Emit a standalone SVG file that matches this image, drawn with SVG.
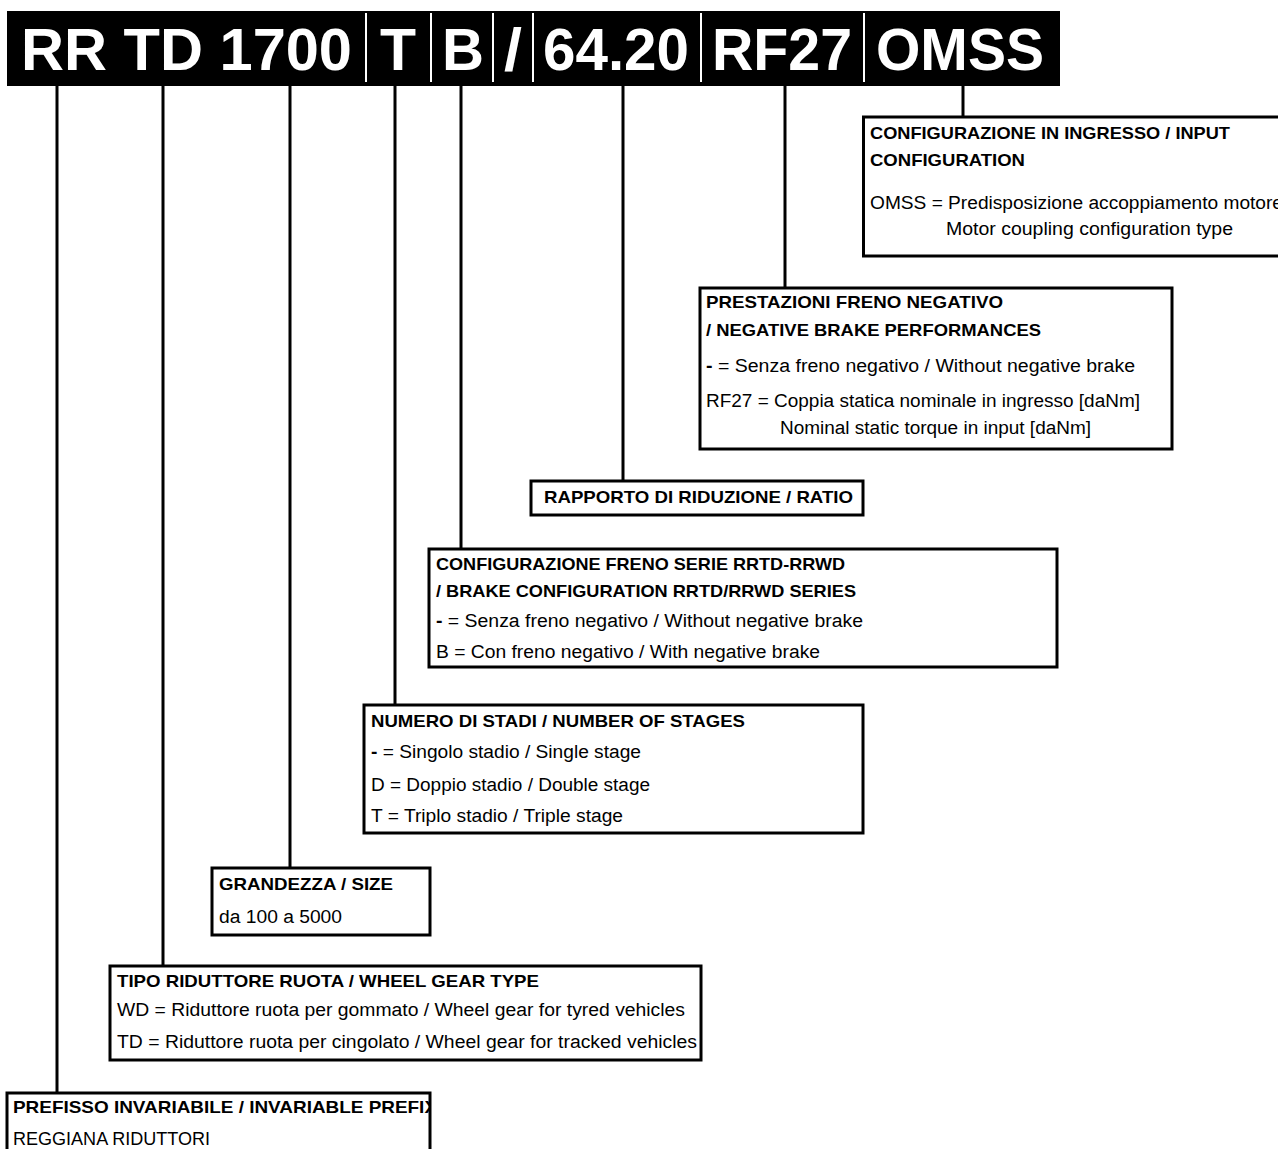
<svg xmlns="http://www.w3.org/2000/svg" width="1278" height="1149" viewBox="0 0 1278 1149">
<style>
.hd{font-family:"Liberation Sans",Arial,sans-serif;font-weight:bold;font-size:59px;fill:#fff}
.b{font-family:"Liberation Sans",Arial,sans-serif;font-weight:bold;font-size:17px;fill:#000}
.r{font-family:"Liberation Sans",Arial,sans-serif;font-size:18px;fill:#000}
.dash{font-weight:bold}
.box{fill:none;stroke:#000;stroke-width:3}
.sep{stroke:#fff;stroke-width:2}
.con{stroke:#000;stroke-width:3;fill:none}
</style>
<rect width="1278" height="1149" fill="#fff"/>
<g id="header">
<rect x="7" y="11" width="1053" height="75" fill="#000"/>
<text class="hd" x="21" y="70" textLength="331" lengthAdjust="spacingAndGlyphs">RR TD 1700</text>
<text class="hd" x="380" y="70" textLength="36" lengthAdjust="spacingAndGlyphs">T</text>
<text class="hd" x="442" y="70" textLength="42" lengthAdjust="spacingAndGlyphs">B</text>
<text class="hd" x="504" y="70" textLength="18" lengthAdjust="spacingAndGlyphs">/</text>
<text class="hd" x="543" y="70" textLength="146" lengthAdjust="spacingAndGlyphs">64.20</text>
<text class="hd" x="712" y="70" textLength="140" lengthAdjust="spacingAndGlyphs">RF27</text>
<text class="hd" x="876" y="70" textLength="168" lengthAdjust="spacingAndGlyphs">OMSS</text>
<line class="sep" x1="366" y1="13" x2="366" y2="82"/>
<line class="sep" x1="431" y1="13" x2="431" y2="82"/>
<line class="sep" x1="493" y1="13" x2="493" y2="82"/>
<line class="sep" x1="533" y1="13" x2="533" y2="82"/>
<line class="sep" x1="701" y1="13" x2="701" y2="82"/>
<line class="sep" x1="864" y1="13" x2="864" y2="82"/>
</g>
<g id="connectors">
<line class="con" x1="57" y1="86" x2="57" y2="1093"/>
<line class="con" x1="163" y1="86" x2="163" y2="966"/>
<line class="con" x1="290" y1="86" x2="290" y2="868"/>
<line class="con" x1="395" y1="86" x2="395" y2="705"/>
<line class="con" x1="461" y1="86" x2="461" y2="549"/>
<line class="con" x1="623" y1="86" x2="623" y2="481"/>
<line class="con" x1="785" y1="86" x2="785" y2="288"/>
<line class="con" x1="963" y1="86" x2="963" y2="117"/>
</g>
<g id="omss">
<text class="b" x="870" y="139" textLength="360" lengthAdjust="spacingAndGlyphs">CONFIGURAZIONE IN INGRESSO / INPUT</text>
<text class="b" x="870" y="166" textLength="155" lengthAdjust="spacingAndGlyphs">CONFIGURATION</text>
<text class="r" x="870" y="209" textLength="413" lengthAdjust="spacingAndGlyphs">OMSS = Predisposizione accoppiamento motore</text>
<text class="r" x="946" y="235" textLength="287" lengthAdjust="spacingAndGlyphs">Motor coupling configuration type</text>
<rect class="box" x="863.5" y="117" width="430" height="139"/>
</g>
<g id="rf27">
<text class="b" x="706" y="308" textLength="297" lengthAdjust="spacingAndGlyphs">PRESTAZIONI FRENO NEGATIVO</text>
<text class="b" x="706" y="336" textLength="335" lengthAdjust="spacingAndGlyphs">/ NEGATIVE BRAKE PERFORMANCES</text>
<text class="r" x="706" y="372" textLength="429" lengthAdjust="spacingAndGlyphs"><tspan class="dash">-</tspan> = Senza freno negativo / Without negative brake</text>
<text class="r" x="706" y="407" textLength="434" lengthAdjust="spacingAndGlyphs">RF27 = Coppia statica nominale in ingresso [daNm]</text>
<text class="r" x="780" y="434" textLength="311" lengthAdjust="spacingAndGlyphs">Nominal static torque in input [daNm]</text>
<rect class="box" x="700" y="288" width="472" height="161"/>
</g>
<g id="ratio">
<text class="b" x="544" y="503" textLength="309" lengthAdjust="spacingAndGlyphs">RAPPORTO DI RIDUZIONE / RATIO</text>
<rect class="box" x="531" y="481" width="332" height="34"/>
</g>
<g id="brake">
<text class="b" x="436" y="570" textLength="409" lengthAdjust="spacingAndGlyphs">CONFIGURAZIONE FRENO SERIE RRTD-RRWD</text>
<text class="b" x="436" y="597" textLength="420" lengthAdjust="spacingAndGlyphs">/ BRAKE CONFIGURATION RRTD/RRWD SERIES</text>
<text class="r" x="436" y="627" textLength="427" lengthAdjust="spacingAndGlyphs"><tspan class="dash">-</tspan> = Senza freno negativo / Without negative brake</text>
<text class="r" x="436" y="658" textLength="384" lengthAdjust="spacingAndGlyphs">B = Con freno negativo / With negative brake</text>
<rect class="box" x="429" y="549" width="628" height="118"/>
</g>
<g id="stages">
<text class="b" x="371" y="727" textLength="374" lengthAdjust="spacingAndGlyphs">NUMERO DI STADI / NUMBER OF STAGES</text>
<text class="r" x="371" y="758" textLength="270" lengthAdjust="spacingAndGlyphs"><tspan class="dash">-</tspan> = Singolo stadio / Single stage</text>
<text class="r" x="371" y="791" textLength="279" lengthAdjust="spacingAndGlyphs">D = Doppio stadio / Double stage</text>
<text class="r" x="371" y="822" textLength="252" lengthAdjust="spacingAndGlyphs">T = Triplo stadio / Triple stage</text>
<rect class="box" x="364" y="705" width="499" height="128"/>
</g>
<g id="size">
<text class="b" x="219" y="890" textLength="174" lengthAdjust="spacingAndGlyphs">GRANDEZZA / SIZE</text>
<text class="r" x="219" y="923" textLength="123" lengthAdjust="spacingAndGlyphs">da 100 a 5000</text>
<rect class="box" x="212" y="868" width="218" height="67"/>
</g>
<g id="type">
<text class="b" x="117" y="987" textLength="422" lengthAdjust="spacingAndGlyphs">TIPO RIDUTTORE RUOTA / WHEEL GEAR TYPE</text>
<text class="r" x="117" y="1016" textLength="568" lengthAdjust="spacingAndGlyphs">WD = Riduttore ruota per gommato / Wheel gear for tyred vehicles</text>
<text class="r" x="117" y="1048" textLength="580" lengthAdjust="spacingAndGlyphs">TD = Riduttore ruota per cingolato / Wheel gear for tracked vehicles</text>
<rect class="box" x="110" y="966" width="591" height="94"/>
</g>
<g id="prefix">
<text class="b" x="13" y="1113" textLength="424" lengthAdjust="spacingAndGlyphs">PREFISSO INVARIABILE / INVARIABLE PREFIX</text>
<text class="r" x="13" y="1145" textLength="197" lengthAdjust="spacingAndGlyphs">REGGIANA RIDUTTORI</text>
<rect x="430" y="1092" width="10" height="60" fill="#fff"/>
<rect class="box" x="7" y="1093" width="423" height="80"/>
</g>
</svg>
